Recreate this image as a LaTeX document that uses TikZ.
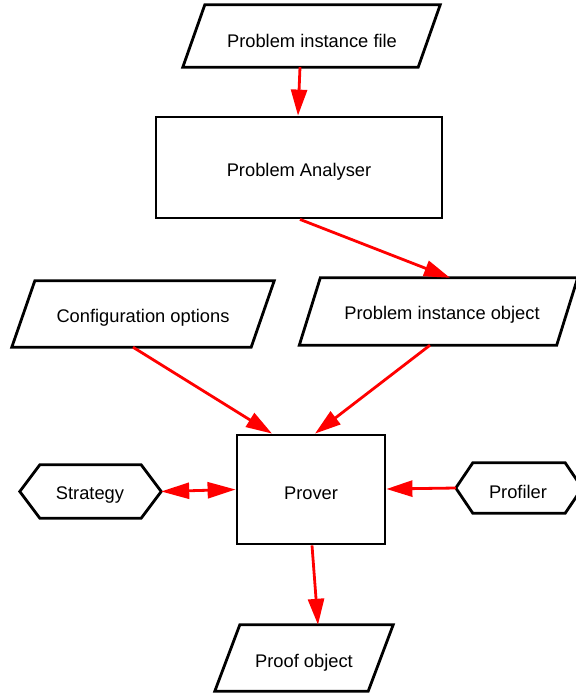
\documentclass[tikz,border=0pt]{standalone}
\usepackage{fontspec}
\setmainfont{Liberation Sans}
\usetikzlibrary{arrows.meta}
\begin{document}
\begin{tikzpicture}[x=1pt,y=-1pt,
  base/.style={draw=none,inner sep=0pt,font=\fontsize{18.3}{22}\selectfont},
  box/.style={draw=black,line width=2.8pt,line join=miter},
  arr/.style={draw=red,line width=2.8pt,-{Triangle[length=26pt,width=16pt]}},
  darr/.style={draw=red,line width=2.8pt,{Triangle[length=28pt,width=16pt]}-{Triangle[length=28pt,width=16pt]}}]
\useasboundingbox (0,0) rectangle (576,694);
% parallelogram holders
\node[base,minimum width=257pt,minimum height=62pt] (pif) at (311.5,36) {};
\node[base,minimum width=262pt,minimum height=66pt] (cfg) at (143,314) {};
\node[base,minimum width=278pt,minimum height=67pt] (pio) at (438.5,311.5) {};
\node[base,minimum width=178pt,minimum height=66pt] (proof) at (304,658) {};
% rectangles
\node[base,box,minimum width=286pt,minimum height=101pt] (ana) at (299,167.5) {};
\node[base,box,minimum width=148pt,minimum height=109pt] (prover) at (311,489.5) {};
% hexagon holders
\node[base,minimum width=141pt,minimum height=53pt] (strat) at (90.5,491.5) {};
\node[base,minimum width=126pt,minimum height=50pt] (prof) at (519,488) {};
% outlines
\foreach \n/\s in {pif/22,cfg/23,pio/21,proof/25}
  \draw[box] ([xshift=\s]\n.north west) -- (\n.north east) -- ([xshift=-\s]\n.south east) -- (\n.south west) -- cycle;
\foreach \n/\s in {strat/20,prof/17}
  \draw[box] (\n.west) -- ([xshift=\s]\n.north west) -- ([xshift=-\s]\n.north east) -- (\n.east) -- ([xshift=-\s]\n.south east) -- ([xshift=\s]\n.south west) -- cycle;
% labels
\node[base] at (312,40.5) {Problem instance file};
\node[base] at (299,171.5) {Problem Analyser};
\node[base] at (143,317.5) {Configuration options};
\node[base] at (442,314.5) {Problem instance object};
\node[base] at (311,493.5) {Prover};
\node[base] at (90,495.5) {Strategy};
\node[base] at (518,491.5) {Profiler};
\node[base] at (304,662.5) {Proof object};
% arrows
\draw[arr] ([xshift=-11.5]pif.south) -- ([xshift=-1]ana.north);
\draw[arr] ([xshift=1]ana.south) -- ([xshift=11.5]pio.north);
\draw[arr] ([xshift=-10]cfg.south) -- ([xshift=-39]prover.north);
\draw[arr] ([xshift=-8.5]pio.south) -- ([xshift=4]prover.north);
\draw[darr] (strat.east) -- (prover.west);
\draw[arr] (prof.west) -- ([yshift=0.5]prover.east);
\draw[arr] ([xshift=1]prover.south) -- ([xshift=14]proof.north);
\end{tikzpicture}
\end{document}
